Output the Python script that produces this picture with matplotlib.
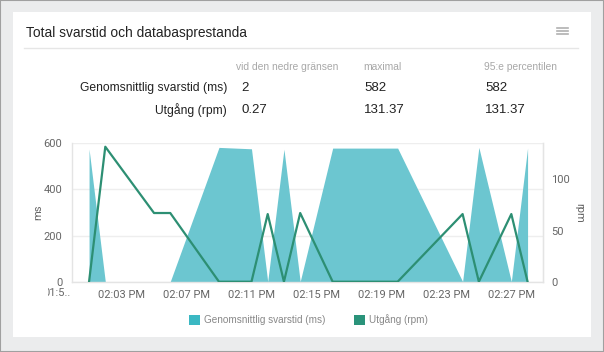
import matplotlib
matplotlib.use("Agg")
import matplotlib.pyplot as plt
from matplotlib.patches import Rectangle, Patch
from matplotlib.lines import Line2D
from matplotlib.transforms import Bbox

# ---------------- data ----------------
title = "Total svarstid och databasprestanda"
col_headers = ["vid den nedre gränsen", "maximal", "95:e percentilen"]
row_labels = ["Genomsnittlig svarstid (ms)", "Utgång (rpm)"]
row_values = [["2", "582", "582"], ["0.27", "131.37", "131.37"]]

# minutes after 14:00
ms_minutes = [1, 2, 6, 9, 11, 12, 13, 14, 16, 20, 24, 25, 27, 28]
ms_values = [574, 2, 2, 581, 575, 2, 573, 2, 578, 578, 2, 581, 2, 578]

rpm_minutes = [1, 2, 5, 6, 9, 11, 12, 13, 14, 16, 20, 24, 25, 27, 28]
rpm_values = [0.27, 131.37, 67, 67, 0.27, 0.27, 66, 0.27, 67, 0.27, 0.27, 66, 0.27, 66, 0.27]

tick_minutes = [3, 7, 11, 15, 19, 23, 27]
tick_labels = ["02:03 PM", "02:07 PM", "02:11 PM", "02:15 PM", "02:19 PM", "02:23 PM", "02:27 PM"]
first_tick_minute = -1
first_tick_label = "01:5.."

legend_labels = ["Genomsnittlig svarstid (ms)", "Utgång (rpm)"]

# ---------------- style ----------------
W, H = 604, 352
AREA_COLOR = "#6cc6d0"
LEG_AREA = "#3bb8c3"
LINE_COLOR = "#2d8f73"
LEG_LINE = "#2a937a"
TXT = "#222222"
GRAY = "#666666"

fig = plt.figure(figsize=(W / 100, H / 100), dpi=100, facecolor="#ebeced")

def fx(x):
    return x / W

def fy(y):
    return 1 - y / H

# outer border
fig.patches.append(Rectangle((0, 0), 1, 1, transform=fig.transFigure, fill=False,
                             edgecolor="#a0a0a0", linewidth=1.5, zorder=-1))
# card
fig.patches.append(Rectangle((fx(13), fy(337)), fx(591) - fx(13), fy(12) - fy(337),
                             transform=fig.transFigure, facecolor="white",
                             edgecolor="none", zorder=-2))
# separator
fig.add_artist(Line2D([fx(24), fx(578)], [fy(47.5), fy(47.5)], color="#e6e6e6", lw=1))
# hamburger icon
for yy in (28, 31, 34):
    fig.add_artist(Line2D([fx(557), fx(568)], [fy(yy), fy(yy)], color="#b0b0b0", lw=1.2))

sans = ["Liberation Sans", "DejaVu Sans"]
fig.text(fx(26), fy(33), title, fontsize=9.9, family=sans, color=TXT, va="center", ha="left")

col_x = [236, 363, 484]
for cx, h in zip(col_x, col_headers):
    fig.text(fx(cx), fy(67), h, fontsize=7.4, family=sans, color="#a8a8a8", va="center", ha="left")
for ry, lab, vals in zip([88, 110], row_labels, row_values):
    fig.text(fx(227), fy(ry), lab, fontsize=8.7, family=sans, color=TXT, va="center", ha="right")
    for cx, v in zip([241, 364, 485], vals):
        fig.text(fx(cx), fy(ry), v, fontsize=9.5, family=sans, color=TXT, va="center", ha="left")

# ---------------- chart ----------------
ax = fig.add_axes([fx(72), fy(282), fx(543) - fx(72), fy(143) - fy(282)])
ax.set_facecolor("none")
ax.fill_between(ms_minutes, ms_values, 0, color=AREA_COLOR, linewidth=0, zorder=2)
ax.set_ylim(0, 600)
ax.set_xlim(-0.05, 28.95)
ax.set_yticks([0, 200, 400, 600])
ax.grid(axis="y", color="#eeeeee", linewidth=1, zorder=0)
ax.set_axisbelow(True)
ax.set_xticks(tick_minutes)
ax.set_xticklabels(tick_labels)
ax.tick_params(axis="both", length=0, labelsize=8, labelcolor=GRAY, pad=7)
ax.tick_params(axis="x", pad=6)
for lab in ax.get_xticklabels() + ax.get_yticklabels():
    lab.set_family("Roboto")
ax.set_ylabel("ms", family="Roboto", fontsize=8, color=GRAY, labelpad=0)
ax.spines["top"].set_visible(False)
for s in ("left", "right", "bottom"):
    ax.spines[s].set_color("#e4e4e4")
    ax.spines[s].set_linewidth(1)

ax2 = ax.twinx()
ax2.plot(rpm_minutes, rpm_values, color=LINE_COLOR, linewidth=1.6, zorder=3)
ax2.set_ylim(0, 135)
ax2.set_yticks([0, 50, 100])
ax2.tick_params(axis="y", length=0, labelsize=8, labelcolor=GRAY, pad=6)
for lab in ax2.get_yticklabels():
    lab.set_family("Roboto")
ax2.set_ylabel("rpm", family="Roboto", fontsize=8, color=GRAY, rotation=270, labelpad=10)
for s in ("top", "left", "bottom"):
    ax2.spines[s].set_visible(False)
ax2.spines["right"].set_color("#e4e4e4")

# truncated first tick label (outside the plot range), clipped on the left
t = ax.text(first_tick_minute, -0.045, first_tick_label, transform=ax.get_xaxis_transform(),
            ha="center", va="top", fontsize=8, family="Roboto", color=GRAY, clip_on=True)
t.set_clip_box(Bbox([[48, 0], [200, 352]]))

# legend
handles = [Patch(facecolor=LEG_AREA, edgecolor="none"), Patch(facecolor=LEG_LINE, edgecolor="none")]
leg = fig.legend(handles, legend_labels, loc="center", bbox_to_anchor=(fx(308.5), fy(320)),
                 ncol=2, frameon=False, handlelength=1.1, handleheight=1.1,
                 handletextpad=0.4, columnspacing=2.9,
                 prop={"family": sans, "size": 7.2})
for tx in leg.get_texts():
    tx.set_color("#888888")

fig.savefig("out.png", dpi=100, facecolor=fig.get_facecolor())
